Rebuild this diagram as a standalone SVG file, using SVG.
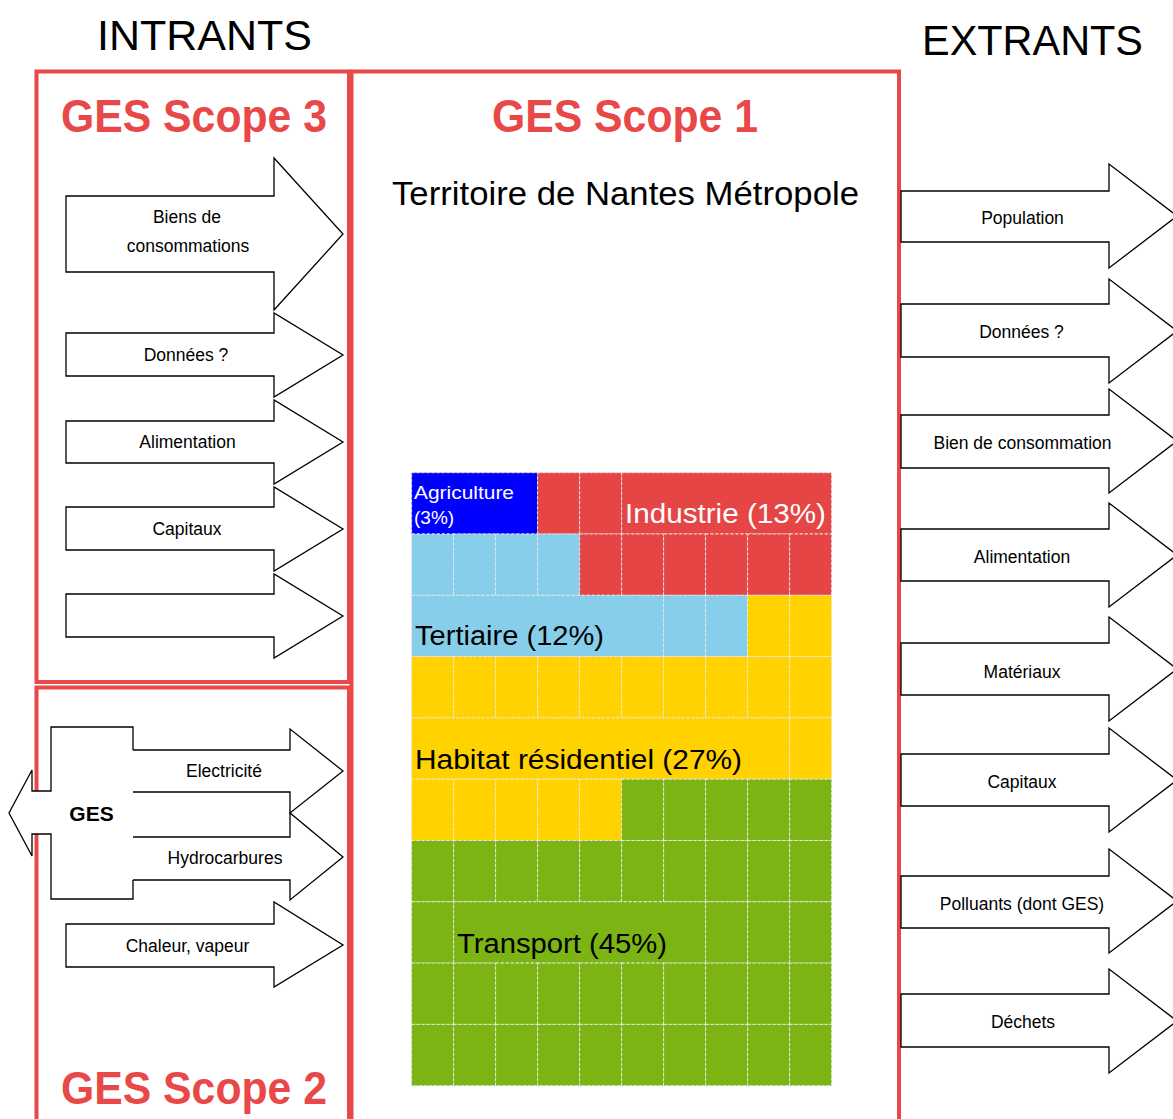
<svg xmlns="http://www.w3.org/2000/svg" width="1173" height="1119" viewBox="0 0 1173 1119">
<style>
.frame{fill:none;stroke:#E84848;stroke-width:4}
.arrow{fill:#fff;stroke:#000;stroke-width:1.3;stroke-linejoin:miter}
.lbl{font-family:"Liberation Sans",Arial,sans-serif;font-size:17.5px;text-anchor:middle;fill:#000}
.head{font-family:"Liberation Sans",Arial,sans-serif;font-size:43px;fill:#000}
.scope{font-family:"Liberation Sans",Arial,sans-serif;font-size:46px;font-weight:bold;fill:#E84848}
.wl{font-family:"Liberation Sans",Arial,sans-serif;font-size:27px}
.ws{font-family:"Liberation Sans",Arial,sans-serif;font-size:19px;fill:#fff}
.cell{stroke:#e6e6e6;stroke-width:1;stroke-dasharray:3 2}
.bl{fill:#0000FF}.rd{fill:#E54545}.lb{fill:#87CEEB}.ye{fill:#FFD200}.gr{fill:#7CB414}
</style>
<rect width="1173" height="1119" fill="#fff"/>
<!-- headings -->
<text class="head" x="97" y="50" textLength="215" lengthAdjust="spacingAndGlyphs">INTRANTS</text>
<text class="head" x="922" y="55" textLength="221" lengthAdjust="spacingAndGlyphs">EXTRANTS</text>
<!-- frames -->
<g id="scope3">
<rect class="frame" x="36.5" y="71.5" width="312.5" height="610.5"/>
<text class="scope" x="61" y="132" textLength="266" lengthAdjust="spacingAndGlyphs">GES Scope 3</text>
</g>
<g id="scope2">
<rect class="frame" x="36.5" y="687.5" width="312.5" height="460"/>
<text class="scope" x="61" y="1104" textLength="266" lengthAdjust="spacingAndGlyphs">GES Scope 2</text>
</g>
<g id="scope1">
<rect class="frame" x="351.5" y="71.5" width="547.5" height="1080"/>
<text class="scope" x="492" y="132" textLength="266" lengthAdjust="spacingAndGlyphs">GES Scope 1</text>
<text x="392" y="205" font-family="Liberation Sans, Arial, sans-serif" font-size="33" textLength="467" lengthAdjust="spacingAndGlyphs">Territoire de Nantes Métropole</text>
</g>
<!-- waffle chart -->
<g id="waffle">
<rect class="cell bl" x="411.6" y="472.7" width="126" height="61.3"/>
<rect class="cell rd" x="537.6" y="472.7" width="42" height="61.3"/>
<rect class="cell rd" x="579.6" y="472.7" width="42" height="61.3"/>
<rect class="cell rd" x="621.6" y="472.7" width="210" height="61.3"/>
<rect class="cell lb" x="411.6" y="534" width="42" height="61.3"/>
<rect class="cell lb" x="453.6" y="534" width="42" height="61.3"/>
<rect class="cell lb" x="495.6" y="534" width="42" height="61.3"/>
<rect class="cell lb" x="537.6" y="534" width="42" height="61.3"/>
<rect class="cell rd" x="579.6" y="534" width="42" height="61.3"/>
<rect class="cell rd" x="621.6" y="534" width="42" height="61.3"/>
<rect class="cell rd" x="663.6" y="534" width="42" height="61.3"/>
<rect class="cell rd" x="705.6" y="534" width="42" height="61.3"/>
<rect class="cell rd" x="747.6" y="534" width="42" height="61.3"/>
<rect class="cell rd" x="789.6" y="534" width="42" height="61.3"/>
<rect class="cell lb" x="411.6" y="595.3" width="252" height="61.3"/>
<rect class="cell lb" x="663.6" y="595.3" width="42" height="61.3"/>
<rect class="cell lb" x="705.6" y="595.3" width="42" height="61.3"/>
<rect class="cell ye" x="747.6" y="595.3" width="42" height="61.3"/>
<rect class="cell ye" x="789.6" y="595.3" width="42" height="61.3"/>
<rect class="cell ye" x="411.6" y="656.6" width="42" height="61.3"/>
<rect class="cell ye" x="453.6" y="656.6" width="42" height="61.3"/>
<rect class="cell ye" x="495.6" y="656.6" width="42" height="61.3"/>
<rect class="cell ye" x="537.6" y="656.6" width="42" height="61.3"/>
<rect class="cell ye" x="579.6" y="656.6" width="42" height="61.3"/>
<rect class="cell ye" x="621.6" y="656.6" width="42" height="61.3"/>
<rect class="cell ye" x="663.6" y="656.6" width="42" height="61.3"/>
<rect class="cell ye" x="705.6" y="656.6" width="42" height="61.3"/>
<rect class="cell ye" x="747.6" y="656.6" width="42" height="61.3"/>
<rect class="cell ye" x="789.6" y="656.6" width="42" height="61.3"/>
<rect class="cell ye" x="411.6" y="717.9" width="378" height="61.3"/>
<rect class="cell ye" x="789.6" y="717.9" width="42" height="61.3"/>
<rect class="cell ye" x="411.6" y="779.2" width="42" height="61.3"/>
<rect class="cell ye" x="453.6" y="779.2" width="42" height="61.3"/>
<rect class="cell ye" x="495.6" y="779.2" width="42" height="61.3"/>
<rect class="cell ye" x="537.6" y="779.2" width="42" height="61.3"/>
<rect class="cell ye" x="579.6" y="779.2" width="42" height="61.3"/>
<rect class="cell gr" x="621.6" y="779.2" width="42" height="61.3"/>
<rect class="cell gr" x="663.6" y="779.2" width="42" height="61.3"/>
<rect class="cell gr" x="705.6" y="779.2" width="42" height="61.3"/>
<rect class="cell gr" x="747.6" y="779.2" width="42" height="61.3"/>
<rect class="cell gr" x="789.6" y="779.2" width="42" height="61.3"/>
<rect class="cell gr" x="411.6" y="840.5" width="42" height="61.3"/>
<rect class="cell gr" x="453.6" y="840.5" width="42" height="61.3"/>
<rect class="cell gr" x="495.6" y="840.5" width="42" height="61.3"/>
<rect class="cell gr" x="537.6" y="840.5" width="42" height="61.3"/>
<rect class="cell gr" x="579.6" y="840.5" width="42" height="61.3"/>
<rect class="cell gr" x="621.6" y="840.5" width="42" height="61.3"/>
<rect class="cell gr" x="663.6" y="840.5" width="42" height="61.3"/>
<rect class="cell gr" x="705.6" y="840.5" width="42" height="61.3"/>
<rect class="cell gr" x="747.6" y="840.5" width="42" height="61.3"/>
<rect class="cell gr" x="789.6" y="840.5" width="42" height="61.3"/>
<rect class="cell gr" x="411.6" y="901.8" width="42" height="61.3"/>
<rect class="cell gr" x="453.6" y="901.8" width="252" height="61.3"/>
<rect class="cell gr" x="705.6" y="901.8" width="42" height="61.3"/>
<rect class="cell gr" x="747.6" y="901.8" width="42" height="61.3"/>
<rect class="cell gr" x="789.6" y="901.8" width="42" height="61.3"/>
<rect class="cell gr" x="411.6" y="963.1" width="42" height="61.3"/>
<rect class="cell gr" x="453.6" y="963.1" width="42" height="61.3"/>
<rect class="cell gr" x="495.6" y="963.1" width="42" height="61.3"/>
<rect class="cell gr" x="537.6" y="963.1" width="42" height="61.3"/>
<rect class="cell gr" x="579.6" y="963.1" width="42" height="61.3"/>
<rect class="cell gr" x="621.6" y="963.1" width="42" height="61.3"/>
<rect class="cell gr" x="663.6" y="963.1" width="42" height="61.3"/>
<rect class="cell gr" x="705.6" y="963.1" width="42" height="61.3"/>
<rect class="cell gr" x="747.6" y="963.1" width="42" height="61.3"/>
<rect class="cell gr" x="789.6" y="963.1" width="42" height="61.3"/>
<rect class="cell gr" x="411.6" y="1024.4" width="42" height="61.3"/>
<rect class="cell gr" x="453.6" y="1024.4" width="42" height="61.3"/>
<rect class="cell gr" x="495.6" y="1024.4" width="42" height="61.3"/>
<rect class="cell gr" x="537.6" y="1024.4" width="42" height="61.3"/>
<rect class="cell gr" x="579.6" y="1024.4" width="42" height="61.3"/>
<rect class="cell gr" x="621.6" y="1024.4" width="42" height="61.3"/>
<rect class="cell gr" x="663.6" y="1024.4" width="42" height="61.3"/>
<rect class="cell gr" x="705.6" y="1024.4" width="42" height="61.3"/>
<rect class="cell gr" x="747.6" y="1024.4" width="42" height="61.3"/>
<rect class="cell gr" x="789.6" y="1024.4" width="42" height="61.3"/>
<text class="ws" x="414" y="499" textLength="100" lengthAdjust="spacingAndGlyphs">Agriculture</text>
<text class="ws" x="414" y="524">(3%)</text>
<text class="wl" x="625" y="523" fill="#fff" textLength="201" lengthAdjust="spacingAndGlyphs">Industrie (13%)</text>
<text class="wl" x="415" y="645" fill="#000" textLength="189" lengthAdjust="spacingAndGlyphs">Tertiaire (12%)</text>
<text class="wl" x="415" y="769" fill="#000" textLength="327" lengthAdjust="spacingAndGlyphs">Habitat résidentiel (27%)</text>
<text class="wl" x="457" y="953" fill="#000" textLength="210" lengthAdjust="spacingAndGlyphs">Transport (45%)</text>
</g>
<!-- GES outgoing arrow -->
<g id="ges">
<path d="M9,813 L32,770 L32,791 L51,791 L51,727 L133,727 L133,899 L51,899 L51,834 L32,834 L32,856 Z" fill="#fff" stroke="none"/>
<path d="M133,750 L133,727 L51,727 L51,791 L32,791 L32,770 L9,813 L32,856 L32,834 L51,834 L51,899 L133,899 L133,880" fill="none" stroke="#000" stroke-width="1.3"/>
<text x="91.5" y="821" font-family="Liberation Sans, Arial, sans-serif" font-size="21" font-weight="bold" text-anchor="middle">GES</text>
</g>
<!-- connectors: block arrows -->
<g id="connectors">
<g id="in-biens"><path class="arrow" d="M66,196 L274,196 L274,158 L343,234 L274,310 L274,272 L66,272 Z"/><text class="lbl" x="187" y="223">Biens de</text><text class="lbl" x="188" y="252">consommations</text></g>
<g id="in-donnees"><path class="arrow" d="M66,333 L274,333 L274,313 L343,355 L274,397 L274,376 L66,376 Z"/><text class="lbl" x="186" y="361">Données ?</text></g>
<g id="in-alim"><path class="arrow" d="M66,421 L274,421 L274,400 L343,442 L274,484 L274,463 L66,463 Z"/><text class="lbl" x="187.5" y="448">Alimentation</text></g>
<g id="in-capitaux"><path class="arrow" d="M66,507 L274,507 L274,487 L343,529 L274,571 L274,550 L66,550 Z"/><text class="lbl" x="187" y="535">Capitaux</text></g>
<g id="in-vide"><path class="arrow" d="M66,594 L274,594 L274,574 L343,616 L274,658 L274,637 L66,637 Z"/></g>
<g id="in-elec"><path class="arrow" d="M133,750 L290,750 L290,729 L343,771 L290,813 L290,792 L133,792"/><text class="lbl" x="224" y="777">Electricité</text></g>
<g id="in-hydro"><path class="arrow" d="M133,837 L290,837 L290,813 L343,857 L290,900 L290,880 L133,880"/><text class="lbl" x="225" y="864">Hydrocarbures</text></g>
<g id="in-chaleur"><path class="arrow" d="M66,924 L274,924 L274,902 L343,945 L274,987 L274,967 L66,967 Z"/><text class="lbl" x="187.5" y="952">Chaleur, vapeur</text></g>
<g id="out-pop"><path class="arrow" d="M901,191 L1109,191 L1109,164 L1177,216 L1109,268 L1109,242 L901,242 Z"/><text class="lbl" x="1022.5" y="224">Population</text></g>
<g id="out-donnees"><path class="arrow" d="M901,304 L1109,304 L1109,279 L1177,331 L1109,383 L1109,357 L901,357 Z"/><text class="lbl" x="1021.5" y="338">Données ?</text></g>
<g id="out-biens"><path class="arrow" d="M901,415 L1109,415 L1109,389 L1177,441 L1109,493 L1109,468 L901,468 Z"/><text class="lbl" x="1022.5" y="449">Bien de consommation</text></g>
<g id="out-alim"><path class="arrow" d="M901,529 L1109,529 L1109,503 L1177,555 L1109,607 L1109,581 L901,581 Z"/><text class="lbl" x="1022" y="563">Alimentation</text></g>
<g id="out-mat"><path class="arrow" d="M901,643 L1109,643 L1109,617 L1177,669 L1109,721 L1109,695 L901,695 Z"/><text class="lbl" x="1022" y="678">Matériaux</text></g>
<g id="out-capitaux"><path class="arrow" d="M901,754 L1109,754 L1109,728 L1177,780 L1109,832 L1109,806 L901,806 Z"/><text class="lbl" x="1022" y="788">Capitaux</text></g>
<g id="out-polluants"><path class="arrow" d="M901,876 L1109,876 L1109,849 L1177,901 L1109,953 L1109,928 L901,928 Z"/><text class="lbl" x="1022" y="910">Polluants (dont GES)</text></g>
<g id="out-dechets"><path class="arrow" d="M901,994 L1109,994 L1109,969 L1177,1021 L1109,1073 L1109,1047 L901,1047 Z"/><text class="lbl" x="1023" y="1028">Déchets</text></g>
</g>
</svg>
